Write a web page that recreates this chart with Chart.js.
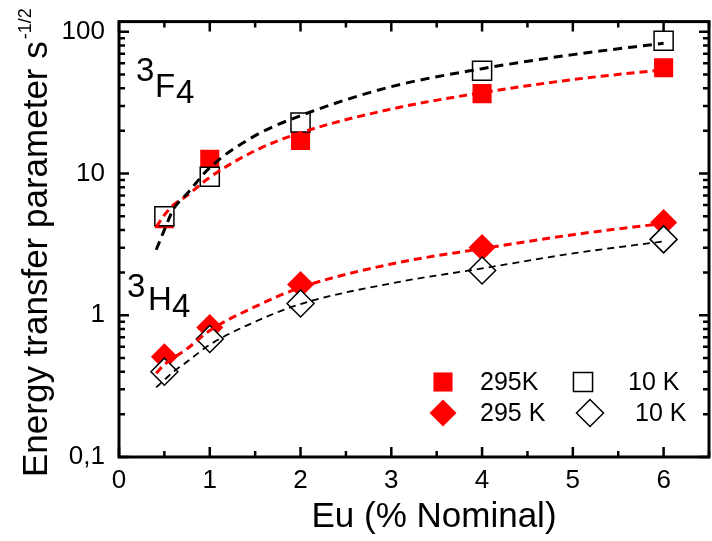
<!DOCTYPE html>
<html>
<head>
<meta charset="utf-8">
<script src="https://cdn.jsdelivr.net/npm/chart.js@4.4.1/dist/chart.umd.min.js"></script>
<style>
  html, body { margin: 0; padding: 0; background: #fff; overflow: hidden; }
  #wrap { width: 712px; height: 541px; overflow: hidden; }
</style>
</head>
<body>
<div id="wrap"><canvas id="chart" width="724" height="541"></canvas></div>
<script>
// measured points (Eu % nominal)
const euPercent = [0.5, 1, 2, 4, 6];
const f4Warm = [4.8, 12.6, 17.1, 36.6, 55.8];   // 3F4, 295K, filled squares
const f4Cold = [5.0, 9.5, 22.9, 53.1, 86.4];    // 3F4, 10 K, open squares
const h4Warm = [0.51, 0.82, 1.65, 3.01, 4.52];  // 3H4, 295 K, filled diamonds
const h4Cold = [0.40, 0.68, 1.21, 2.07, 3.43];  // 3H4, 10 K, open diamonds

// dashed fit curves
const fitX = [0.41, 0.5, 0.6, 0.75, 1, 1.5, 2, 3, 4, 5, 6];
const f4WarmFit = [4.2, 5.1, 6.0, 7.0, 9.4, 14.5, 19.4, 28.5, 37.2, 46, 54];
const f4ColdFit = [2.9, 4.0, 5.6, 7.2, 11, 18.5, 25.6, 41, 54.9, 69, 83];
const h4WarmFit = [0.39, 0.45, 0.5, 0.58, 0.78, 1.15, 1.57, 2.3, 2.95, 3.7, 4.45];
const h4ColdFit = [0.31, 0.35, 0.40, 0.47, 0.62, 0.9, 1.2, 1.68, 2.14, 2.73, 3.32];

const xTicks = [0, 1, 2, 3, 4, 5, 6];
const yTicks = [0.1, 1, 10, 100];
const yTickLabels = ['0,1', '1', '10', '100'];

const legendLabels = ['295K', '10 K', '295 K', '10 K'];

const RED = '#ff0000';
const FONT = '"Liberation Sans", Arial, Helvetica, sans-serif';

const pts = (xs, ys) => xs.map((x, i) => ({ x: x, y: ys[i] }));

function markerSet(label, ys, style, filled, order) {
    return {
        label: label,
        data: pts(euPercent, ys),
        pointStyle: style,
        pointRadius: 13.5,
        pointBackgroundColor: filled ? RED : '#ffffff',
        pointBorderColor: filled ? RED : '#000000',
        pointBorderWidth: filled ? 0 : 1.5,
        showLine: false,
        order: order
    };
}

function fitSet(ys, color, width, dash) {
    return {
        data: pts(fitX, ys),
        showLine: true,
        borderColor: color,
        borderWidth: width,
        borderDash: dash,
        pointRadius: 0,
        cubicInterpolationMode: 'monotone',
        order: 0
    };
}

function drawMarker(ctx, style, filled, x, y) {
    const r = 13.5;
    ctx.save();
    ctx.beginPath();
    if (style === 'rect') {
        const h = r * Math.SQRT1_2;
        ctx.rect(x - h, y - h, 2 * h, 2 * h);
    } else {
        ctx.moveTo(x - r, y);
        ctx.lineTo(x, y - r);
        ctx.lineTo(x + r, y);
        ctx.lineTo(x, y + r);
        ctx.closePath();
    }
    ctx.fillStyle = filled ? RED : '#fff';
    ctx.fill();
    if (!filled) {
        ctx.lineWidth = 1.5;
        ctx.strokeStyle = '#000';
        ctx.stroke();
    }
    ctx.restore();
}

const framePlugin = {
    id: 'frame',
    afterDraw(chart) {
        const ctx = chart.ctx;
        const a = chart.chartArea;
        const xs = chart.scales.x;
        const ys = chart.scales.y;
        ctx.save();
        ctx.strokeStyle = '#000';
        ctx.lineCap = 'butt';

        // ticks (inward)
        ctx.lineWidth = 2.5;
        for (let v = 0; v <= 6.5; v += 0.5) {
            const px = xs.getPixelForValue(v);
            const len = Number.isInteger(v) ? 10 : 6;
            ctx.beginPath();
            ctx.moveTo(px, a.bottom); ctx.lineTo(px, a.bottom - len);
            ctx.moveTo(px, a.top); ctx.lineTo(px, a.top + len);
            ctx.stroke();
        }
        for (let k = -1; k <= 2; k++) {
            for (let m = 1; m <= 9; m++) {
                const v = m * Math.pow(10, k);
                if (v > ys.max) continue;
                const py = ys.getPixelForValue(v);
                const len = m === 1 ? 10 : 6;
                ctx.beginPath();
                ctx.moveTo(a.left, py); ctx.lineTo(a.left + len, py);
                ctx.moveTo(a.right, py); ctx.lineTo(a.right - len, py);
                ctx.stroke();
            }
        }

        // axis lines
        ctx.lineWidth = 3;
        ctx.strokeRect(a.left, a.top, a.right - a.left, a.bottom - a.top);

        ctx.fillStyle = '#000';

        // axis titles
        ctx.font = '35px ' + FONT;
        ctx.textAlign = 'center';
        ctx.textBaseline = 'alphabetic';
        ctx.fillText('Eu (% Nominal)', 434, 527);

        ctx.save();
        ctx.translate(47, 477);
        ctx.rotate(-Math.PI / 2);
        ctx.textAlign = 'left';
        ctx.font = '35px ' + FONT;
        const main = 'Energy transfer parameter s';
        ctx.fillText(main, 0, 0);
        const w = ctx.measureText(main).width;
        ctx.font = '18px ' + FONT;
        ctx.fillText('-1/2', w + 2, -16);
        ctx.restore();

        // level labels
        ctx.textAlign = 'left';
        ctx.font = '33px ' + FONT;
        ctx.fillText('3', 136, 81);
        ctx.fillText('F', 155, 97);
        ctx.fillText('4', 176, 103);
        ctx.fillText('3', 127, 297);
        ctx.fillText('H', 148, 310);
        ctx.fillText('4', 172, 317);

        // legend
        drawMarker(ctx, 'rect', true, 443, 382);
        drawMarker(ctx, 'rect', false, 583, 382);
        drawMarker(ctx, 'diamond', true, 443, 413);
        drawMarker(ctx, 'diamond', false, 590, 413);
        ctx.font = '25px ' + FONT;
        ctx.textBaseline = 'middle';
        ctx.fillText(legendLabels[0], 480, 383);
        ctx.fillText(legendLabels[1], 628, 383);
        ctx.fillText(legendLabels[2], 480, 414);
        ctx.fillText(legendLabels[3], 635, 414);
        ctx.restore();
    }
};

new Chart(document.getElementById('chart'), {
    type: 'scatter',
    data: {
        datasets: [
            markerSet('295K', f4Warm, 'rect', true, 5),
            markerSet('10 K', f4Cold, 'rect', false, 4),
            markerSet('295 K', h4Warm, 'rectRot', true, 3),
            markerSet('10 K', h4Cold, 'rectRot', false, 2),
            fitSet(f4ColdFit, '#000', 3, [9, 6]),
            fitSet(f4WarmFit, RED, 3, [8, 5]),
            fitSet(h4ColdFit, '#000', 1.8, [7, 5]),
            fitSet(h4WarmFit, RED, 3, [8, 5])
        ]
    },
    options: {
        responsive: false,
        animation: false,
        events: [],
        layout: { padding: { top: 21, right: 8, left: 0, bottom: 0 } },
        plugins: { legend: { display: false }, tooltip: { enabled: false } },
        scales: {
            x: {
                type: 'linear',
                min: 0,
                max: 6.5,
                grid: { display: false },
                border: { display: false },
                afterBuildTicks: s => { s.ticks = xTicks.map(v => ({ value: v })); },
                afterFit: s => { s.height = 84; },
                ticks: {
                    color: '#000',
                    font: { family: FONT, size: 26 },
                    padding: 0,
                    autoSkip: false,
                    maxRotation: 0,
                    callback: v => String(v)
                }
            },
            y: {
                type: 'logarithmic',
                min: 0.1,
                max: 118,
                grid: { display: false },
                border: { display: false },
                afterBuildTicks: s => { s.ticks = yTicks.map(v => ({ value: v })); },
                afterFit: s => { s.width = 119; },
                ticks: {
                    color: '#000',
                    font: { family: FONT, size: 26 },
                    padding: 6,
                    autoSkip: false,
                    callback: (v, i) => yTickLabels[i]
                }
            }
        }
    },
    plugins: [framePlugin]
});
</script>
</body>
</html>
